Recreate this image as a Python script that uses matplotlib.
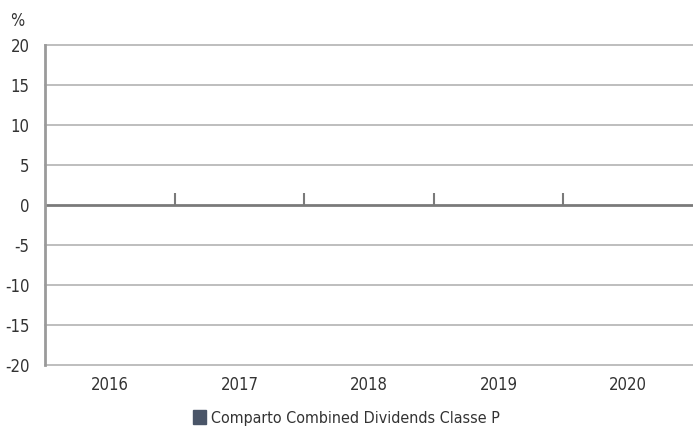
import numpy as np
import matplotlib.pyplot as plt
from matplotlib.patches import Patch

plt.rcParams['font.family'] = ['DejaVu Sans']
plt.rcParams['font.stretch'] = 'condensed'

years = ['2016', '2017', '2018', '2019', '2020']
values = [np.nan, np.nan, np.nan, np.nan, np.nan]  # no data shown in the chart
series_name = 'Comparto Combined Dividends Classe P'
yticks = [-20, -15, -10, -5, 0, 5, 10, 15, 20]

fig = plt.figure(figsize=(6.93, 4.32), dpi=100)
ax = fig.add_axes([45 / 693, 67 / 432, 648 / 693, 320 / 432])

x = np.arange(len(years))
ax.bar(x, values, width=0.6, color='#4a5568')

ax.set_xlim(-0.5, len(years) - 0.5)
ax.set_ylim(-20, 20)
ax.set_yticks(yticks)
ax.set_yticklabels([str(v) for v in yticks])
ax.set_xticks(x)
ax.set_xticklabels(years)

for v in yticks:
    if v != 0:
        ax.axhline(v, color='#b3b3b3', lw=1.2, zorder=0, clip_on=False)
ax.axhline(0, color='#7a7a7a', lw=2, zorder=2)
# small marks at category boundaries
ax.vlines(x[:-1] + 0.5, 0, 1.5, color='#7a7a7a', lw=1.5, zorder=2)

for s in ['top', 'right', 'bottom']:
    ax.spines[s].set_visible(False)
ax.spines['left'].set_color('#9a9a9a')
ax.spines['left'].set_linewidth(2)
ax.tick_params(axis='both', length=0, labelsize=12, colors='#333333')
ax.tick_params(axis='x', pad=8)
ax.tick_params(axis='y', pad=11)

fig.text(10 / 693, 1 - 21 / 432, '%', fontsize=12, color='#333333', va='center')

fig.legend(handles=[Patch(color='#4a5568', label=series_name)],
           loc='center', bbox_to_anchor=(0.5, 1 - 418 / 432), frameon=False,
           fontsize=11.5, handlelength=0.8, handleheight=0.9, handletextpad=0.3,
           labelcolor='#333333')

fig.savefig('out.png', dpi=100)
